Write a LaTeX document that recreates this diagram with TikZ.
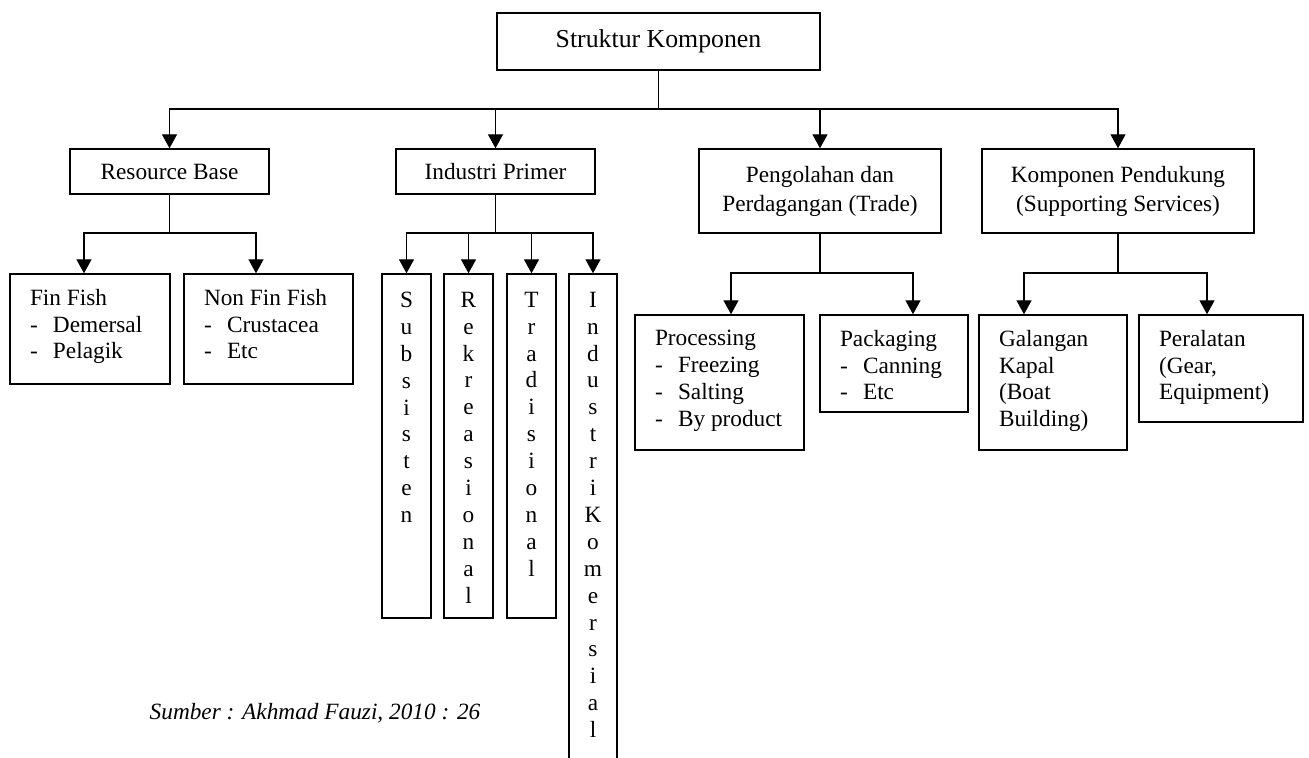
\documentclass[tikz,border=0pt]{standalone}
\usepackage{fontspec}
\setmainfont{Liberation Serif}
\usetikzlibrary{arrows.meta}
\newcommand{\boxfont}{\fontsize{11.65}{13.45}\selectfont}
\newcommand{\dashitem}{\makebox[11.5pt][l]{-}}

\begin{document}
\begin{tikzpicture}[x=0.5pt,y=-0.5pt,line width=0.7pt,font=\boxfont,
		arr/.style={-{Triangle[width=7.5pt,length=7pt]}},
		box/.style={draw,inner sep=0pt},
		lines/.style={inner sep=0pt,align=left,anchor=north west},
		letters/.style={inner sep=0pt,align=center,anchor=north}]
	\useasboundingbox (0,0) rectangle (1309,758);
	\clip (0,0) rectangle (1309,758);

	\node[box,minimum width=161.5pt,minimum height=28.5pt,font=\fontsize{12.9}{15}\selectfont] (top) at (658.5,41.5) {Struktur Komponen};

	\node[box,minimum width=99.5pt,minimum height=22.5pt] (rb) at (169.5,171.5) {Resource Base};
	\node[box,minimum width=99.5pt,minimum height=22.5pt] (ip) at (495.5,171.5) {Industri Primer};
	\node[box,minimum width=121pt,minimum height=42pt,align=center,font=\fontsize{11.65}{14.5}\selectfont] (pd) at (820,191) {Pengolahan dan\\Perdagangan (Trade)};
	\node[box,minimum width=136pt,minimum height=42pt,align=center,font=\fontsize{11.65}{14.5}\selectfont] (kp) at (1118,191) {Komponen Pendukung\\(Supporting Services)};

	\node[box,minimum width=80pt,minimum height=55pt] (ff) at (90,329) {};
	\node[lines] (fft) at ([xshift=10pt,yshift=-7.5pt]ff.north west) {Fin Fish\\\dashitem Demersal\\\dashitem Pelagik};
	\node[box,minimum width=84.5pt,minimum height=55pt] (nff) at (268.5,329) {};
	\node[lines] (nfft) at ([xshift=10pt,yshift=-7.5pt]nff.north west) {Non Fin Fish\\\dashitem Crustacea\\\dashitem Etc};

	\node[box,minimum width=24.5pt,minimum height=172pt] (sub) at (406.5,446) {};
	\node[letters] (subt) at ([yshift=-9pt]sub.north) {S\\u\\b\\s\\i\\s\\t\\e\\n};
	\node[box,minimum width=24.5pt,minimum height=172pt] (rek) at (468.5,446) {};
	\node[letters] (rekt) at ([yshift=-9pt]rek.north) {R\\e\\k\\r\\e\\a\\s\\i\\o\\n\\a\\l};
	\node[box,minimum width=24.5pt,minimum height=172pt] (tra) at (531.5,446) {};
	\node[letters] (trat) at ([yshift=-9pt]tra.north) {T\\r\\a\\d\\i\\s\\i\\o\\n\\a\\l};
	\node[box,minimum width=24pt,minimum height=253pt] (ik) at (593,527) {};
	\node[letters] (ikt) at ([yshift=-9pt]ik.north) {I\\n\\d\\u\\s\\t\\r\\i\\K\\o\\m\\e\\r\\s\\i\\a\\l};

	\node[box,minimum width=84.5pt,minimum height=67.5pt] (proc) at (719.5,382.5) {};
	\node[lines] (proct) at ([xshift=10pt,yshift=-7.5pt]proc.north west) {Processing\\\dashitem Freezing\\\dashitem Salting\\\dashitem By product};
	\node[box,minimum width=74pt,minimum height=48.5pt] (pack) at (894,363.5) {};
	\node[lines] (packt) at ([xshift=10pt,yshift=-7.5pt]pack.north west) {Packaging\\\dashitem Canning\\\dashitem Etc};

	\node[box,minimum width=74pt,minimum height=67.5pt] (gal) at (1053,382.5) {};
	\node[lines] (galt) at ([xshift=10pt,yshift=-7.5pt]gal.north west) {Galangan\\Kapal\\(Boat\\Building)};
	\node[box,minimum width=82pt,minimum height=53.5pt] (per) at (1221,368.5) {};
	\node[lines] (pert) at ([xshift=10pt,yshift=-7.5pt]per.north west) {Peralatan\\(Gear,\\Equipment)};

	\node[anchor=west,inner sep=0pt,font=\boxfont\itshape] (src) at (149,713) {Sumber : Akhmad Fauzi, 2010 : 26};

	\coordinate (hub) at (658.5,109);
	\draw (top) -- (hub);
	\foreach \n in {rb,ip,pd,kp}
		\draw[arr] (hub) -| (\n);

	\coordinate (rbj) at (169.5,233);
	\coordinate (ffin) at (84,233);
	\coordinate (nffin) at (256,233);
	\draw (rb) -- (rbj);
	\foreach \j/\b in {ffin/ff,nffin/nff}
		\draw[arr] (rbj) -- (\j) -- (\j |- \b.north);

	\coordinate (ipj) at (495.5,233);
	\draw (ip) -- (ipj);
	\foreach \b in {sub,rek,tra,ik}
		\draw[arr] (ipj) -| (\b);

	\coordinate (pdj) at (820,273);
	\coordinate (procin) at (731,273);
	\coordinate (packin) at (913,273);
	\draw (pd) -- (pdj);
	\foreach \j/\b in {procin/proc,packin/pack}
		\draw[arr] (pdj) -- (\j) -- (\j |- \b.north);

	\coordinate (kpj) at (1118,273);
	\coordinate (galin) at (1024,273);
	\coordinate (perin) at (1207,273);
	\draw (kp) -- (kpj);
	\foreach \j/\b in {galin/gal,perin/per}
		\draw[arr] (kpj) -- (\j) -- (\j |- \b.north);
\end{tikzpicture}
\end{document}
